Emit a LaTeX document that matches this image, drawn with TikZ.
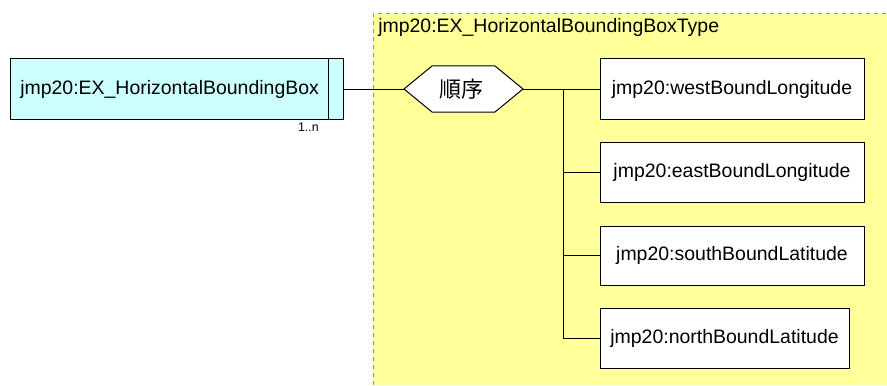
\documentclass[tikz,border=0pt]{standalone}
\usepackage{fontspec}
\setmainfont{Liberation Sans}
\newfontfamily\cjk{Noto Sans CJK JP}
\begin{document}
\begin{tikzpicture}[x=0.75pt,y=-0.75pt,
  txt/.style={font=\fontsize{14.6}{16}\selectfont},
  elem/.style={draw=black,fill=white,line width=0.75pt,inner sep=0pt,txt},
  conn/.style={draw=black,line width=0.75pt}]
\useasboundingbox (0,0) rectangle (887,385);
% yellow type area
\fill[fill={rgb,255:red,255;green,255;blue,153}] (373,14) rectangle (887,385);
\draw[draw={rgb,255:red,150;green,150;blue,150},dashed,line width=0.75pt] (373,385) -- (373,14) -- (887,14);
\node[anchor=west,txt,inner sep=0pt] (title) at (378,27) {jmp20:EX\_HorizontalBoundingBoxType};
% main element
\node[elem,fill={rgb,255:red,204;green,255;blue,255},minimum width=333*0.75pt,minimum height=60*0.75pt] (main) at (176.5,89) {};
\node[anchor=west,txt,inner sep=0pt] (mainlabel) at (20,89) {jmp20:EX\_HorizontalBoundingBox};
\draw[line width=0.75pt] (328,59) -- (328,119);
\node[anchor=east,font=\fontsize{9.3}{10}\selectfont,inner sep=0pt] (mult) at (319,127) {1..n};
% sequence hexagon
\draw[fill=white,line width=0.75pt] (404,89) -- (432,66) -- (495,66) -- (523,89) -- (495,112) -- (432,112) -- cycle;
\coordinate (seqL) at (404,89);
\coordinate (seqR) at (523,89);
\node[font=\cjk\fontsize{16.5}{18}\selectfont,inner sep=0pt] (seq) at (461,89) {順序};
% children
\node[elem,minimum width=264*0.75pt,minimum height=60*0.75pt] (west) at (732,89) {jmp20:westBoundLongitude};
\node[elem,minimum width=264*0.75pt,minimum height=60*0.75pt] (east) at (732,172) {jmp20:eastBoundLongitude};
\node[elem,minimum width=264*0.75pt,minimum height=59*0.75pt] (south) at (732,255.5) {jmp20:southBoundLatitude};
\node[elem,minimum width=249*0.75pt,minimum height=60*0.75pt] (north) at (724.5,338) {jmp20:northBoundLatitude};
% connectors
\draw[conn] (main.east) -- (seqL);
\draw[conn] (seqR) -- (west.west);
\coordinate (bus) at (563,89);
\draw[conn] (bus) |- (north.west);
\draw[conn] (563,172) -- (east.west);
\draw[conn] (563,255) -- (south.west |- 0,255);
\end{tikzpicture}
\end{document}
